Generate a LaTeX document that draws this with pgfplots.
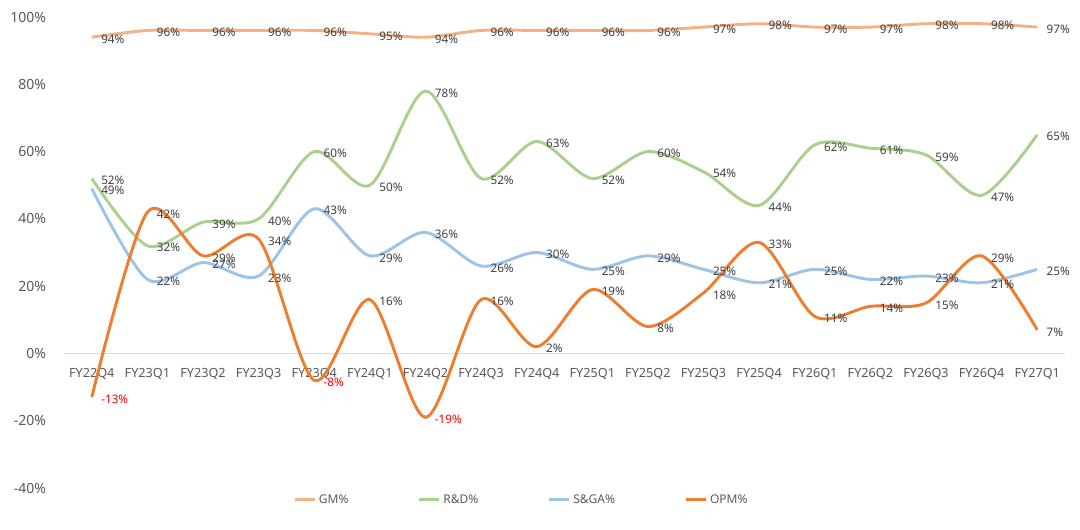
\documentclass[border=0pt]{standalone}
\usepackage{fontspec}
\setmainfont{Noto Sans}
\usepackage{pgfplots}
\pgfplotsset{compat=1.18}
\usepackage{pgfplotstable}
\definecolor{gm}{HTML}{F4B183}
\definecolor{rd}{HTML}{A9D18E}
\definecolor{sga}{HTML}{9DC3E6}
\definecolor{opm}{HTML}{ED7D31}
\definecolor{txt}{HTML}{595959}
\definecolor{lab}{HTML}{404040}
\definecolor{zl}{HTML}{D9DCF0}
\definecolor{neg}{HTML}{FF0000}
\begin{document}
\begin{tikzpicture}
\useasboundingbox (0,0) rectangle (810pt,396.75pt);
\begin{axis}[
  at={(48pt,30.75pt)}, anchor=south west,
  scale only axis, width=750.75pt, height=353.25pt,
  xmin=-0.5, xmax=17.5, ymin=-40, ymax=100,
  axis x line=middle, axis y line=left,
  x axis line style={draw=zl, line width=0.75pt, -},
  y axis line style={draw=none},
  xtick={0,...,17},
  xticklabels={FY22Q4,FY23Q1,FY23Q2,FY23Q3,FY23Q4,FY24Q1,FY24Q2,FY24Q3,FY24Q4,FY25Q1,FY25Q2,FY25Q3,FY25Q4,FY26Q1,FY26Q2,FY26Q3,FY26Q4,FY27Q1},
  ytick={-40,-20,0,20,40,60,80,100},
  yticklabel={\pgfmathprintnumber{\tick}\%},
  /pgf/number format/assume math mode=true,
  major tick length=0pt,
  xticklabel style={yshift=-8pt, font=\fontsize{9.5}{11}\selectfont, text=txt},
  yticklabel style={xshift=-10pt, font=\fontsize{10.5}{12}\selectfont, text=txt},
  every axis plot/.append style={smooth, tension=0.5, line width=2.2pt, mark=none},
  point meta=explicit symbolic,
  nodes near coords,
  every node near coord/.style={anchor=west, xshift=5pt, yshift=-1.5pt, font=\fontsize{8.8}{10}\selectfont, text=lab, inner sep=1pt},
  legend style={draw=none, fill=none, at={(0.2248,-0.025)}, anchor=west,
    legend columns=4, font=\fontsize{9}{11}\selectfont, text=txt,
    /tikz/every even column/.append style={column sep=50pt}},
  legend image code/.code={\draw[#1, line width=2.2pt] (0pt,0pt) -- (15pt,0pt);},
  clip=false,
]
\addplot[gm] coordinates {(0,94)[94\%] (1,96)[96\%] (2,96)[96\%] (3,96)[96\%] (4,96)[96\%] (5,95)[95\%] (6,94)[94\%] (7,96)[96\%] (8,96)[96\%] (9,96)[96\%] (10,96)[96\%] (11,97)[97\%] (12,98)[98\%] (13,97)[97\%] (14,97)[97\%] (15,98)[98\%] (16,98)[98\%] (17,97)[97\%]};
\addlegendentry{GM\%}
\addplot[rd] coordinates {(0,52)[52\%] (1,32)[32\%] (2,39)[39\%] (3,40)[40\%] (4,60)[60\%] (5,50)[50\%] (6,78)[78\%] (7,52)[52\%] (8,63)[63\%] (9,52)[52\%] (10,60)[60\%] (11,54)[54\%] (12,44)[44\%] (13,62)[62\%] (14,61)[61\%] (15,59)[59\%] (16,47)[47\%] (17,65)[65\%]};
\addlegendentry{R\&D\%}
\addplot[sga] coordinates {(0,49)[49\%] (1,22)[22\%] (2,27)[27\%] (3,23)[23\%] (4,43)[43\%] (5,29)[29\%] (6,36)[36\%] (7,26)[26\%] (8,30)[30\%] (9,25)[25\%] (10,29)[29\%] (11,25)[25\%] (12,21)[21\%] (13,25)[25\%] (14,22)[22\%] (15,23)[23\%] (16,21)[21\%] (17,25)[25\%]};
\addlegendentry{S\&GA\%}
\addplot[opm] coordinates {(0,-13)[{\color{neg}-13\%}] (1,42)[42\%] (2,29)[29\%] (3,34)[34\%] (4,-8)[{\color{neg}-8\%}] (5,16)[16\%] (6,-19)[{\color{neg}-19\%}] (7,16)[16\%] (8,2)[2\%] (9,19)[19\%] (10,8)[8\%] (11,18)[18\%] (12,33)[33\%] (13,11)[11\%] (14,14)[14\%] (15,15)[15\%] (16,29)[29\%] (17,7)[7\%]};
\addlegendentry{OPM\%}
\end{axis}
\end{tikzpicture}
\end{document}
